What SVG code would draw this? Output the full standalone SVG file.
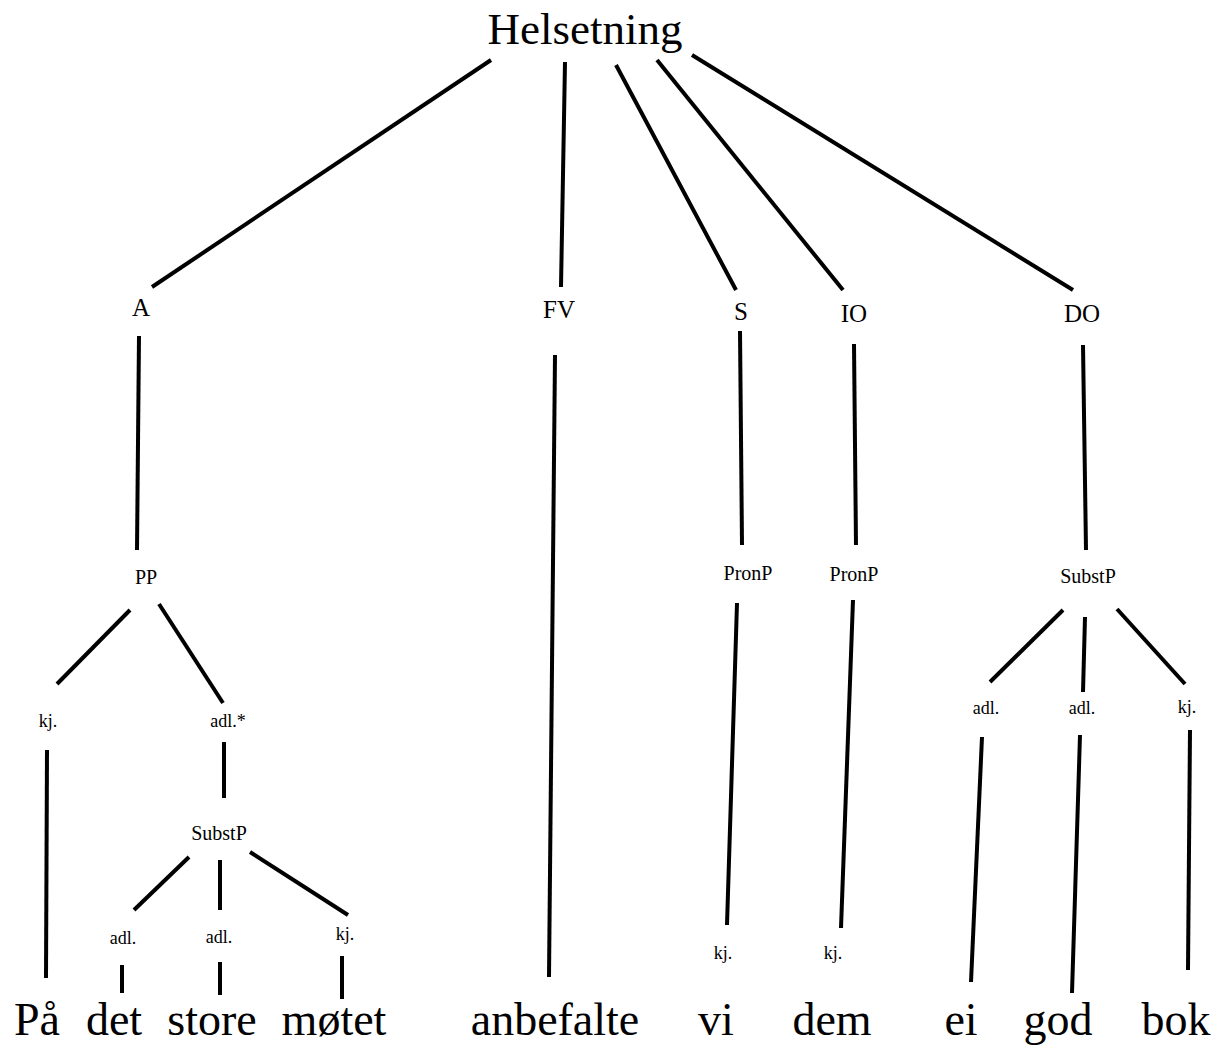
<svg xmlns="http://www.w3.org/2000/svg" width="1224" height="1048" viewBox="0 0 1224 1048">
<style>
text{font-family:"Liberation Serif","DejaVu Serif",serif;fill:#000;text-anchor:middle}
.t{font-size:45px}
.w{font-size:46px}
.f{font-size:25px}
.p{font-size:20px}
.s{font-size:18px}
#connectors line{stroke:#000;stroke-width:4;stroke-linecap:butt}
</style>
<rect width="1224" height="1048" fill="#fff"/>
<g id="connectors">
<line x1="491" y1="60" x2="152" y2="287"/>
<line x1="565" y1="62" x2="561" y2="287"/>
<line x1="616" y1="65" x2="736" y2="290"/>
<line x1="657" y1="60" x2="843" y2="290"/>
<line x1="692" y1="55" x2="1073" y2="290"/>
<line x1="139" y1="336" x2="137" y2="550"/>
<line x1="555" y1="355" x2="549" y2="977"/>
<line x1="740" y1="331" x2="742" y2="545"/>
<line x1="854" y1="344" x2="856" y2="545"/>
<line x1="1083" y1="345" x2="1086" y2="550"/>
<line x1="130" y1="610" x2="57" y2="684"/>
<line x1="159" y1="604" x2="223" y2="703"/>
<line x1="47" y1="750" x2="46" y2="978"/>
<line x1="224" y1="742" x2="224" y2="798"/>
<line x1="189" y1="857" x2="134" y2="910"/>
<line x1="220" y1="860" x2="220" y2="910"/>
<line x1="250" y1="852" x2="348" y2="915"/>
<line x1="122" y1="965" x2="122" y2="993"/>
<line x1="220" y1="962" x2="220" y2="995"/>
<line x1="342" y1="956" x2="342" y2="999"/>
<line x1="737" y1="603" x2="727" y2="925"/>
<line x1="853" y1="600" x2="841" y2="928"/>
<line x1="1063" y1="610" x2="990" y2="682"/>
<line x1="1085" y1="617" x2="1083" y2="692"/>
<line x1="1117" y1="609" x2="1185" y2="684"/>
<line x1="982" y1="737" x2="971" y2="982"/>
<line x1="1080" y1="735" x2="1072" y2="993"/>
<line x1="1190" y1="730" x2="1188" y2="970"/>
</g>
<g id="n-helsetning"><text class="t" x="585" y="44">Helsetning</text></g>
<g id="n-A"><text class="f" x="141" y="316">A</text></g>
<g id="n-FV"><text class="f" x="559" y="318">FV</text></g>
<g id="n-S"><text class="f" x="741" y="320">S</text></g>
<g id="n-IO"><text class="f" x="854" y="322">IO</text></g>
<g id="n-DO"><text class="f" x="1082" y="322">DO</text></g>
<g id="n-PP"><text class="p" x="146" y="584">PP</text></g>
<g id="n-kj1"><text class="s" x="48" y="727">kj.</text></g>
<g id="n-adlstar"><text class="s" x="228" y="727">adl.*</text></g>
<g id="n-SubstP1"><text class="p" x="219" y="840">SubstP</text></g>
<g id="n-adl1"><text class="s" x="123" y="944">adl.</text></g>
<g id="n-adl2"><text class="s" x="219" y="943">adl.</text></g>
<g id="n-kj2"><text class="s" x="345" y="940">kj.</text></g>
<g id="n-PronP1"><text class="p" x="748" y="580">PronP</text></g>
<g id="n-PronP2"><text class="p" x="854" y="581">PronP</text></g>
<g id="n-SubstP2"><text class="p" x="1088" y="583">SubstP</text></g>
<g id="n-adl3"><text class="s" x="986" y="714">adl.</text></g>
<g id="n-adl4"><text class="s" x="1082" y="714">adl.</text></g>
<g id="n-kj3"><text class="s" x="1187" y="713">kj.</text></g>
<g id="n-kj4"><text class="s" x="723" y="959">kj.</text></g>
<g id="n-kj5"><text class="s" x="833" y="959">kj.</text></g>
<g id="w-paa"><text class="w" x="37" y="1035">På</text></g>
<g id="w-det"><text class="w" x="114" y="1035">det</text></g>
<g id="w-store"><text class="w" x="212" y="1035">store</text></g>
<g id="w-motet"><text class="w" x="334" y="1035">møtet</text></g>
<g id="w-anbefalte"><text class="w" x="555" y="1035">anbefalte</text></g>
<g id="w-vi"><text class="w" x="716" y="1035">vi</text></g>
<g id="w-dem"><text class="w" x="832" y="1035">dem</text></g>
<g id="w-ei"><text class="w" x="961" y="1035">ei</text></g>
<g id="w-god"><text class="w" x="1058" y="1035">god</text></g>
<g id="w-bok"><text class="w" x="1176" y="1035">bok</text></g>
</svg>
